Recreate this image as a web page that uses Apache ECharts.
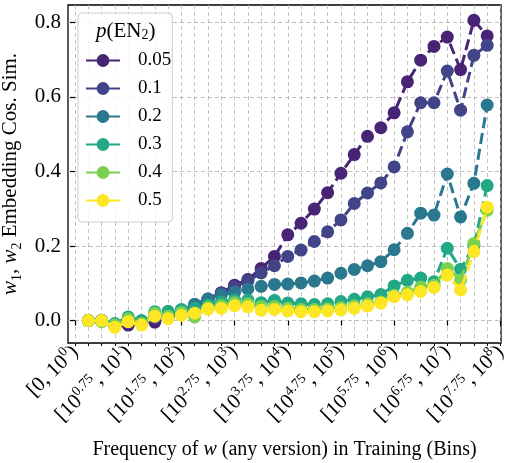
<!DOCTYPE html>
<html><head><meta charset="utf-8">
<script src="https://cdn.jsdelivr.net/npm/echarts@6/dist/echarts.min.js"></script>
<style>html,body{margin:0;padding:0;background:#fff}#c{width:508px;height:463px}</style>
</head><body><div id="c"></div>
<script>
// Bins (index 0..32): [0,10^0), [10^0,10^0.25), ..., [10^7.75,10^8)
const binIndex = [0,1,2,3,4,5,6,7,8,9,10,11,12,13,14,15,16,17,18,19,20,21,22,23,24,25,26,27,28,29,30,31,32];
const majorTicks = [0,4,8,12,16,20,24,28,32];
const tickLabels = [
  '[0, 10{s|0})',
  '[10{s|0.75}, 10{s|1})',
  '[10{s|1.75}, 10{s|2})',
  '[10{s|2.75}, 10{s|3})',
  '[10{s|3.75}, 10{s|4})',
  '[10{s|4.75}, 10{s|5})',
  '[10{s|5.75}, 10{s|6})',
  '[10{s|6.75}, 10{s|7})',
  '[10{s|7.75}, 10{s|8})'
];
const yTicks = [0, 0.2, 0.4, 0.6, 0.8];
const seriesNames = ['0.05', '0.1', '0.2', '0.3', '0.4', '0.5'];
const seriesColors = ['#482475', '#414487', '#2a788e', '#22a884', '#7ad151', '#fde725'];

const p05 = [null, 0.0, 0.0, -0.015, -0.012, -0.006, -0.004, 0.012, 0.02, 0.04, 0.058, 0.075, 0.095, 0.11, 0.14, 0.172, 0.23, 0.261, 0.299, 0.343, 0.395, 0.445, 0.494, 0.517, 0.557, 0.64, 0.698, 0.735, 0.76, 0.673, 0.805, 0.763, null];
const p10 = [null, 0.0, 0.0, -0.013, -0.004, -0.006, 0.008, 0.012, 0.02, 0.038, 0.055, 0.073, 0.09, 0.106, 0.128, 0.147, 0.172, 0.189, 0.212, 0.238, 0.27, 0.314, 0.342, 0.369, 0.412, 0.506, 0.584, 0.584, 0.669, 0.564, 0.711, 0.738, null];
const p20 = [null, 0.0, 0.0, -0.01, 0.003, -0.004, 0.014, 0.018, 0.027, 0.044, 0.058, 0.069, 0.076, 0.085, 0.092, 0.097, 0.098, 0.101, 0.106, 0.114, 0.127, 0.137, 0.147, 0.158, 0.19, 0.234, 0.288, 0.283, 0.393, 0.278, 0.368, 0.578, null];
const p30 = [null, 0.0, 0.0, -0.008, 0.01, 0.0, 0.024, 0.025, 0.03, 0.033, 0.042, 0.05, 0.055, 0.055, 0.048, 0.054, 0.047, 0.045, 0.043, 0.045, 0.051, 0.057, 0.064, 0.07, 0.093, 0.108, 0.114, 0.104, 0.194, 0.138, 0.2, 0.362, null];
const p40 = [null, 0.0, -0.003, -0.012, 0.005, -0.008, 0.02, 0.012, 0.022, 0.01, 0.035, 0.04, 0.048, 0.045, 0.038, 0.038, 0.033, 0.03, 0.03, 0.032, 0.035, 0.04, 0.045, 0.05, 0.068, 0.076, 0.09, 0.095, 0.14, 0.109, 0.207, 0.296, null];
const p50 = [null, 0.0, 0.0, -0.018, -0.003, -0.012, 0.012, 0.005, 0.014, 0.02, 0.031, 0.033, 0.04, 0.037, 0.028, 0.03, 0.026, 0.024, 0.024, 0.026, 0.029, 0.033, 0.039, 0.047, 0.064, 0.069, 0.078, 0.089, 0.122, 0.082, 0.185, 0.304, null];
const allValues = [p05, p10, p20, p30, p40, p50];

const FONT = 'Liberation Serif';
const chart = echarts.init(document.getElementById('c'), null, {renderer: 'canvas'});

const gridLine = {show: true, lineStyle: {color: '#b0b0b0', width: 0.8, type: [4, 3]}};

const series = seriesNames.map((name, k) => ({
  name: name,
  type: 'line',
  xAxisIndex: 0,
  yAxisIndex: 0,
  data: binIndex.map((x, i) => [x, allValues[k][i]]).filter(d => d[1] !== null),
  symbol: 'circle',
  symbolSize: 13,
  itemStyle: {color: seriesColors[k]},
  lineStyle: {color: seriesColors[k], width: 3, type: [11, 5]},
  emphasis: {disabled: true},
  animation: false,
  z: 2 + k
}));

chart.setOption({
  animation: false,
  backgroundColor: '#fff',
  textStyle: {fontFamily: FONT},
  grid: {left: 68, right: 7, top: 5, bottom: 120, containLabel: false, outerBoundsMode: 'none',
    show: true, borderColor: '#000', borderWidth: 1.3, backgroundColor: 'transparent'},
  xAxis: [
    {
      type: 'value', min: -0.53, max: 32.04,
      axisLine: {show: false},
      axisTick: {show: true, length: 5, lineStyle: {color: '#000', width: 1.2}, customValues: majorTicks},
      axisLabel: {
        show: true, customValues: majorTicks, rotate: 45, margin: 6,
        fontFamily: FONT, fontSize: 21, color: '#000', lineHeight: 27,
        formatter: v => tickLabels[majorTicks.indexOf(Math.round(v))] || '',
        rich: {s: {fontFamily: FONT, fontSize: 14, lineHeight: 14, verticalAlign: 'top', color: '#000'}}
      },
      splitLine: {show: false},
      name: 'Frequency of {i|w} (any version) in Training (Bins)',
      nameLocation: 'middle', nameGap: 95,
      nameTextStyle: {fontFamily: FONT, fontSize: 20, color: '#000', lineHeight: 24,
        rich: {i: {fontFamily: FONT, fontSize: 20, fontStyle: 'italic', color: '#000'}}}
    },
    {
      type: 'value', min: -0.53, max: 32.04, position: 'bottom',
      axisLine: {show: false},
      axisTick: {show: true, length: 3, lineStyle: {color: '#000', width: 1}, customValues: binIndex},
      axisLabel: {show: false},
      splitLine: Object.assign({}, gridLine)
    }
  ],
  yAxis: {
    type: 'value', min: -0.06, max: 0.846,
    axisLine: {show: false},
    axisTick: {show: true, length: 5, lineStyle: {color: '#000', width: 1.2}, customValues: yTicks},
    axisLabel: {customValues: yTicks, fontFamily: FONT, fontSize: 21, color: '#000', margin: 7,
      formatter: v => v.toFixed(1)},
    splitLine: gridLine,
    name: '{i|w}{b|1}, {i|w}{b|2} Embedding Cos. Sim.',
    nameLocation: 'middle', nameGap: 38, nameRotate: 90,
    nameTextStyle: {fontFamily: FONT, fontSize: 21, color: '#000', lineHeight: 26,
      rich: {
        i: {fontFamily: FONT, fontSize: 21, fontStyle: 'italic', color: '#000', lineHeight: 26},
        b: {fontFamily: FONT, fontSize: 14, color: '#000', lineHeight: 16, verticalAlign: 'bottom'}
      }}
  },
  legend: {
    show: true, orient: 'vertical', left: 78, top: 13,
    padding: [38, 1, 12, 7],
    itemWidth: 34, itemHeight: 16, itemGap: 9,
    backgroundColor: 'rgba(255,255,255,0.85)', borderColor: '#cccccc', borderWidth: 1, borderRadius: 4,
    lineStyle: {type: 'solid'},
    textStyle: {fontFamily: FONT, fontSize: 19, color: '#000', padding: [0, 0, 0, 13]},
    data: seriesNames
  },
  graphic: [{
    type: 'text', left: 96, top: 21, z: 100,
    style: {
      text: '{i|p}(EN{b|2})',
      fontFamily: FONT, fontSize: 21, fill: '#000',
      rich: {
        i: {fontFamily: FONT, fontSize: 21, fontStyle: 'italic', fill: '#000'},
        b: {fontFamily: FONT, fontSize: 14, fill: '#000', lineHeight: 16, verticalAlign: 'bottom'}
      }
    }
  }],
  series: series
});
</script>
</body></html>
